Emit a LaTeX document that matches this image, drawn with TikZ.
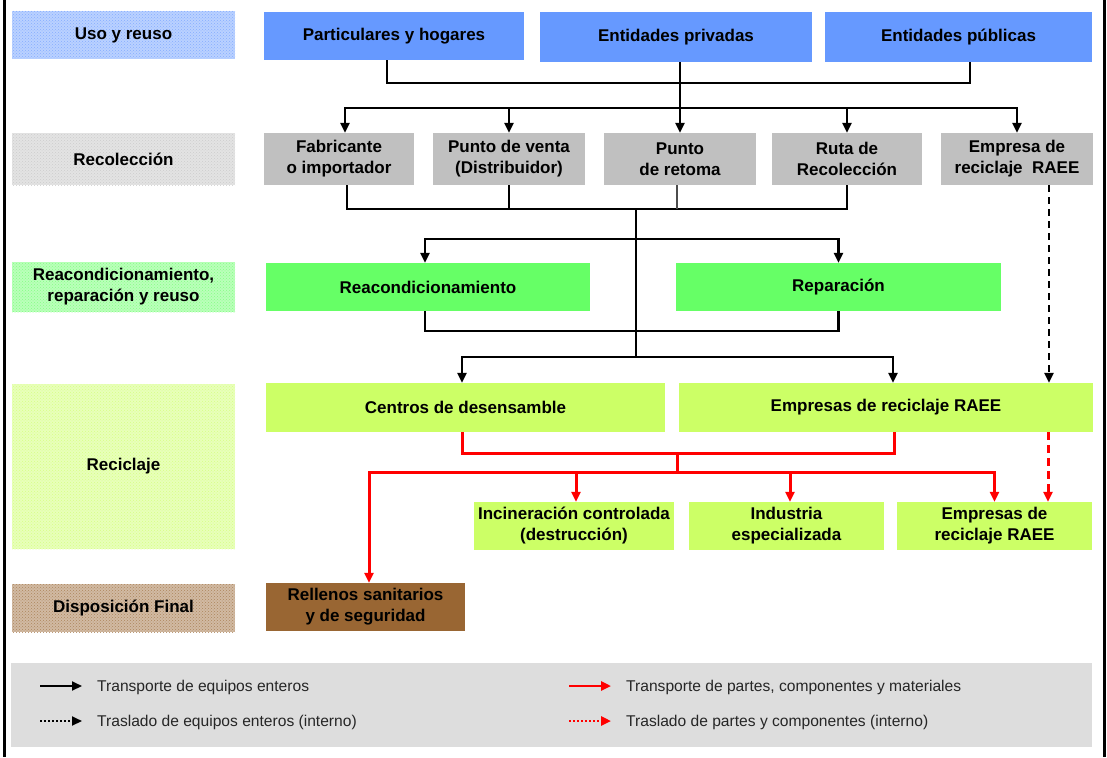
\documentclass[tikz,border=0pt]{standalone}
\usepackage{fontspec}
\setmainfont{Liberation Sans}
\usetikzlibrary{arrows.meta,patterns}

\definecolor{usoblue}{HTML}{6699FF}
\definecolor{recgray}{HTML}{C0C0C0}
\definecolor{reacgreen}{HTML}{66FF66}
\definecolor{reciyellow}{HTML}{CCFF66}
\definecolor{dispbrown}{HTML}{996633}
\definecolor{leggray}{HTML}{DDDDDD}

\begin{document}
\begin{tikzpicture}[x=1pt,y=-1pt,
	flowbox/.style={fill=#1,inner sep=0pt,align=center,font=\bfseries\fontsize{17}{21}\selectfont},
	stagebox/.style={fill=#1!45!white,postaction={pattern=crosshatch dots,pattern color=#1!80!white},
		inner sep=0pt,align=center,font=\bfseries\fontsize{17}{21}\selectfont},
	flow/.style={line width=2.4pt},
	arr/.style={flow,-{Triangle[length=10pt,width=9pt]}},
	arrboth/.style={flow,{Triangle[length=10pt,width=9pt]}-{Triangle[length=10pt,width=9pt]}},
	dasharr/.style={arr,dash pattern=on 7pt off 5pt},
	redflow/.style={red,line width=3pt},
	redarr/.style={redflow,-{Triangle[length=10pt,width=9pt]}},
	redarrboth/.style={redflow,{Triangle[length=10pt,width=9pt]}-{Triangle[length=10pt,width=9pt]}},
	reddasharr/.style={redarr,dash pattern=on 8pt off 5pt},
	legtext/.style={anchor=west,inner sep=0pt,font=\fontsize{15.6}{18}\selectfont,text=black!85}]
	\useasboundingbox (0,0) rectangle (1107,757);
	\draw[line width=3pt] (4,0) -- (4,757);
	\draw[line width=3pt] (1104,0) -- (1104,757);

	% stages
	\node[stagebox=usoblue,minimum width=223pt,minimum height=48pt] (sUso) at (123.5,35) {Uso y reuso};
	\node[stagebox=recgray,minimum width=223pt,minimum height=52pt] (sRec) at (123.5,159) {Recolecci\'on};
	\node[stagebox=reacgreen,minimum width=223pt,minimum height=50pt] (sReac) at (123.5,287) {Reacondicionamiento,\\reparaci\'on y reuso};
	\node[stagebox=reciyellow,minimum width=223pt,minimum height=165pt] (sRecic) at (123.5,466.5) {Reciclaje};
	\node[stagebox=dispbrown,minimum width=223pt,minimum height=48pt] (sDisp) at (123.5,608) {Disposici\'on Final};

	% uso y reuso
	\node[flowbox=usoblue,minimum width=260pt,minimum height=48pt] (part) at (394,36) {Particulares y hogares};
	\node[flowbox=usoblue,minimum width=272pt,minimum height=50pt] (priv) at (676,37) {Entidades privadas};
	\node[flowbox=usoblue,minimum width=267pt,minimum height=50pt] (pub) at (958.5,37) {Entidades p\'ublicas};

	% recoleccion
	\node[flowbox=recgray,minimum width=150pt,minimum height=52pt] (fab) at (339,159) {Fabricante\\o importador};
	\node[flowbox=recgray,minimum width=152pt,minimum height=52pt] (venta) at (509,159) {Punto de venta\\(Distribuidor)};
	\node[flowbox=recgray,minimum width=152pt,minimum height=52pt] (retoma) at (680,159) {Punto\\de retoma};
	\node[flowbox=recgray,minimum width=150pt,minimum height=52pt] (ruta) at (847,159) {Ruta de\\Recolecci\'on};
	\node[flowbox=recgray,minimum width=152pt,minimum height=52pt] (empresa) at (1017,159) {Empresa de\\reciclaje\ \ RAEE};

	% reacondicionamiento
	\node[flowbox=reacgreen,minimum width=324pt,minimum height=48pt] (reac) at (428,287) {Reacondicionamiento};
	\node[flowbox=reacgreen,minimum width=325pt,minimum height=48pt] (rep) at (838.5,287) {Reparaci\'on};

	% reciclaje
	\node[flowbox=reciyellow,minimum width=399pt,minimum height=49pt] (centros) at (465.5,407.5) {Centros de desensamble};
	\node[flowbox=reciyellow,minimum width=414pt,minimum height=49pt] (empresas) at (886,407.5) {Empresas de reciclaje RAEE};
	\node[flowbox=reciyellow,minimum width=200pt,minimum height=48pt] (incin) at (574,526) {Incineraci\'on controlada\\(destrucci\'on)};
	\node[flowbox=reciyellow,minimum width=195pt,minimum height=48pt] (indus) at (786.5,526) {Industria\\especializada};
	\node[flowbox=reciyellow,minimum width=195pt,minimum height=48pt] (emp2) at (994.5,526) {Empresas de\\reciclaje RAEE};

	% disposicion final
	\node[flowbox=dispbrown,minimum width=199pt,minimum height=48pt] (rellenos) at (365.5,607) {Rellenos sanitarios\\y de seguridad};

	\coordinate (hub1) at (636,209);
	\coordinate (hub2) at (636,357);
	\coordinate (hub3) at (677,452);
	\coordinate (hub4) at (677,473);

	% equipos enteros
	\draw[flow] ([xshift=-7pt]part.south) -- ++(0,23) -| ([xshift=11.5pt]pub.south);
	\draw[arr] (priv.south -| retoma.north) -- (retoma.north);
	\draw[arrboth] ([xshift=6pt]fab.north) -- ++(0,-25) -| (empresa.north);
	\draw[arr] ([yshift=25pt]venta.north) -- (venta.north);
	\draw[arr] ([yshift=25pt]ruta.north) -- (ruta.north);
	\draw[flow] ([xshift=8pt]fab.south) -- ++(0,24) -| (ruta.south);
	\draw[flow] (venta.south) -- ++(0,24);
	\draw[line width=1.6pt,black!70] ([xshift=-3pt]retoma.south) -- ++(0,24);
	\draw[flow] (hub1) -- (hub2);
	\draw[arrboth] ([xshift=-3pt]reac.north) -- ++(0,-24) -| (rep.north);
	\draw[flow] ([xshift=-3pt]reac.south) -- ++(0,20) -| (rep.south);
	\draw[arrboth] ([xshift=-3.5pt]centros.north) -- ++(0,-26) -| ([xshift=7pt]empresas.north);
	\draw[dasharr] ([xshift=32pt]empresa.south) -- ([xshift=32pt]empresa.south |- empresas.north);

	% partes y componentes
	\draw[redflow] ([xshift=-3.5pt]centros.south) -- ++(0,21) -| ([xshift=8pt]empresas.south);
	\draw[redflow] (hub3) -- (hub4);
	\draw[redarrboth] ([xshift=3.5pt]rellenos.north) -- ++(0,-110) -| (emp2.north);
	\draw[redarr] ([xshift=2pt,yshift=29pt]incin.north) -- ([xshift=2pt]incin.north);
	\draw[redarr] ([xshift=3.5pt,yshift=29pt]indus.north) -- ([xshift=3.5pt]indus.north);
	\draw[reddasharr] ([xshift=162pt]empresas.south) -- ([xshift=162pt]empresas.south |- emp2.north);

	% legend
	\node[fill=leggray,minimum width=1081pt,minimum height=84pt,inner sep=0pt] (legend) at (551.5,705) {};
	\coordinate (k1a) at (40,686);  \coordinate (k1b) at (82,686);
	\coordinate (k2a) at (40,721);  \coordinate (k2b) at (82,721);
	\coordinate (k3a) at (569,686); \coordinate (k3b) at (611,686);
	\coordinate (k4a) at (569,721); \coordinate (k4b) at (611,721);
	\draw[arr,line width=2pt] (k1a) -- (k1b);
	\draw[arr,line width=2pt,dash pattern=on 2pt off 2pt] (k2a) -- (k2b);
	\draw[redarr,line width=2.4pt] (k3a) -- (k3b);
	\draw[redarr,line width=2.4pt,dash pattern=on 2pt off 2pt] (k4a) -- (k4b);
	\node[legtext] (t1) at (97,687) {Transporte de equipos enteros};
	\node[legtext] (t2) at (97,722) {Traslado de equipos enteros (interno)};
	\node[legtext] (t3) at (626,687) {Transporte de partes, componentes y materiales};
	\node[legtext] (t4) at (626,722) {Traslado de partes y componentes (interno)};
\end{tikzpicture}
\end{document}
